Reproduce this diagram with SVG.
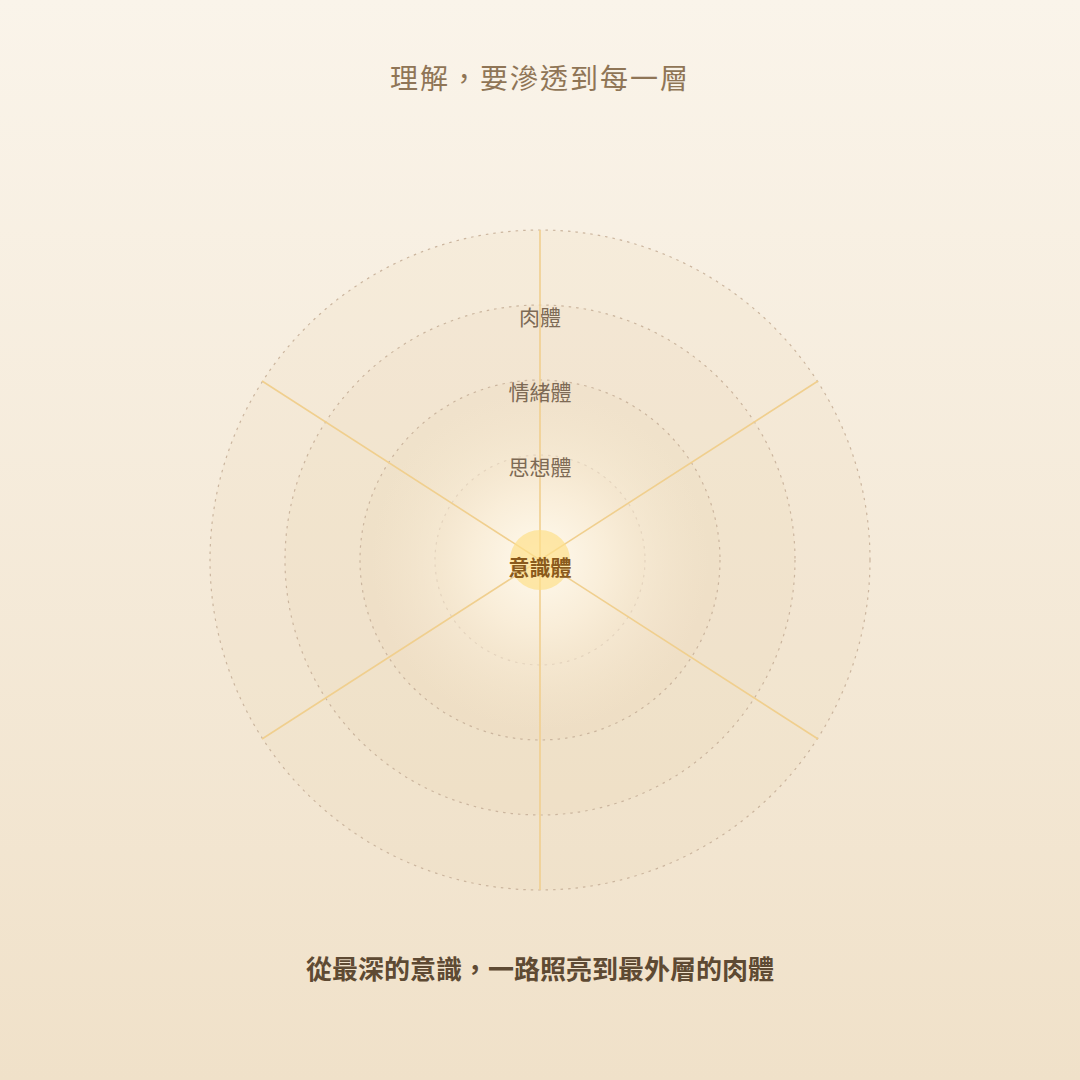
<svg xmlns="http://www.w3.org/2000/svg" width="1080" height="1080" viewBox="0 0 1080 1080">
<defs>
<linearGradient id="bg" x1="0" y1="0" x2="0" y2="1">
<stop offset="0" stop-color="#faf4ea"/>
<stop offset="1" stop-color="#f0e1c9"/>
</linearGradient>
<radialGradient id="glow" cx="540" cy="560" r="170" gradientUnits="userSpaceOnUse">
<stop offset="0" stop-color="#fffaee" stop-opacity="1"/>
<stop offset="0.4" stop-color="#fbf0dc" stop-opacity="0.85"/>
<stop offset="1" stop-color="#f6e8d0" stop-opacity="0"/>
</radialGradient>
<style>
.ring{fill:#e6cfa8;fill-opacity:0.13;stroke:#cbb59e;stroke-width:1.2;stroke-dasharray:2.5 5}
.spoke{stroke:#f0cf8e;stroke-width:1.6;fill:none}
.lbl{font-family:"Noto Sans CJK TC","Noto Sans CJK SC",sans-serif;font-size:21px;fill:#7d6a55;text-anchor:middle}
.core{font-family:"Noto Sans CJK TC","Noto Sans CJK SC",sans-serif;font-size:21px;font-weight:bold;fill:#8a5a1c;text-anchor:middle}
.title{font-family:"Noto Sans CJK TC","Noto Sans CJK SC",sans-serif;font-size:28px;fill:#8f7556;text-anchor:middle;letter-spacing:2px}
.sub{font-family:"Noto Sans CJK TC","Noto Sans CJK SC",sans-serif;font-size:26px;font-weight:bold;fill:#5e4a33;text-anchor:middle}
</style>
</defs>
<rect width="1080" height="1080" fill="url(#bg)"/>
<text class="title" x="540" y="89">理解，要滲透到每一層</text>
<g id="layer-body"><circle class="ring" cx="540" cy="560" r="330"/></g>
<g id="layer-emotion"><circle class="ring" cx="540" cy="560" r="255"/></g>
<g id="layer-thought"><circle class="ring" cx="540" cy="560" r="180"/></g>
<g id="layer-mind"><circle class="ring" cx="540" cy="560" r="105"/></g>
<circle cx="540" cy="560" r="170" fill="url(#glow)"/>
<g id="connectors">
<line class="spoke" x1="540" y1="230" x2="540" y2="890"/>
<line class="spoke" x1="262" y1="381" x2="818" y2="739"/>
<line class="spoke" x1="818" y1="381" x2="262" y2="739"/>
</g>
<g id="core"><circle cx="540" cy="560" r="30" fill="#fde08a" fill-opacity="0.7"/>
<text class="core" x="540" y="575">意識體</text></g>
<g id="labels">
<text class="lbl" x="540" y="325">肉體</text>
<text class="lbl" x="540" y="400">情緒體</text>
<text class="lbl" x="540" y="475">思想體</text>
</g>
<text class="sub" x="540" y="979">從最深的意識，一路照亮到最外層的肉體</text>
</svg>
